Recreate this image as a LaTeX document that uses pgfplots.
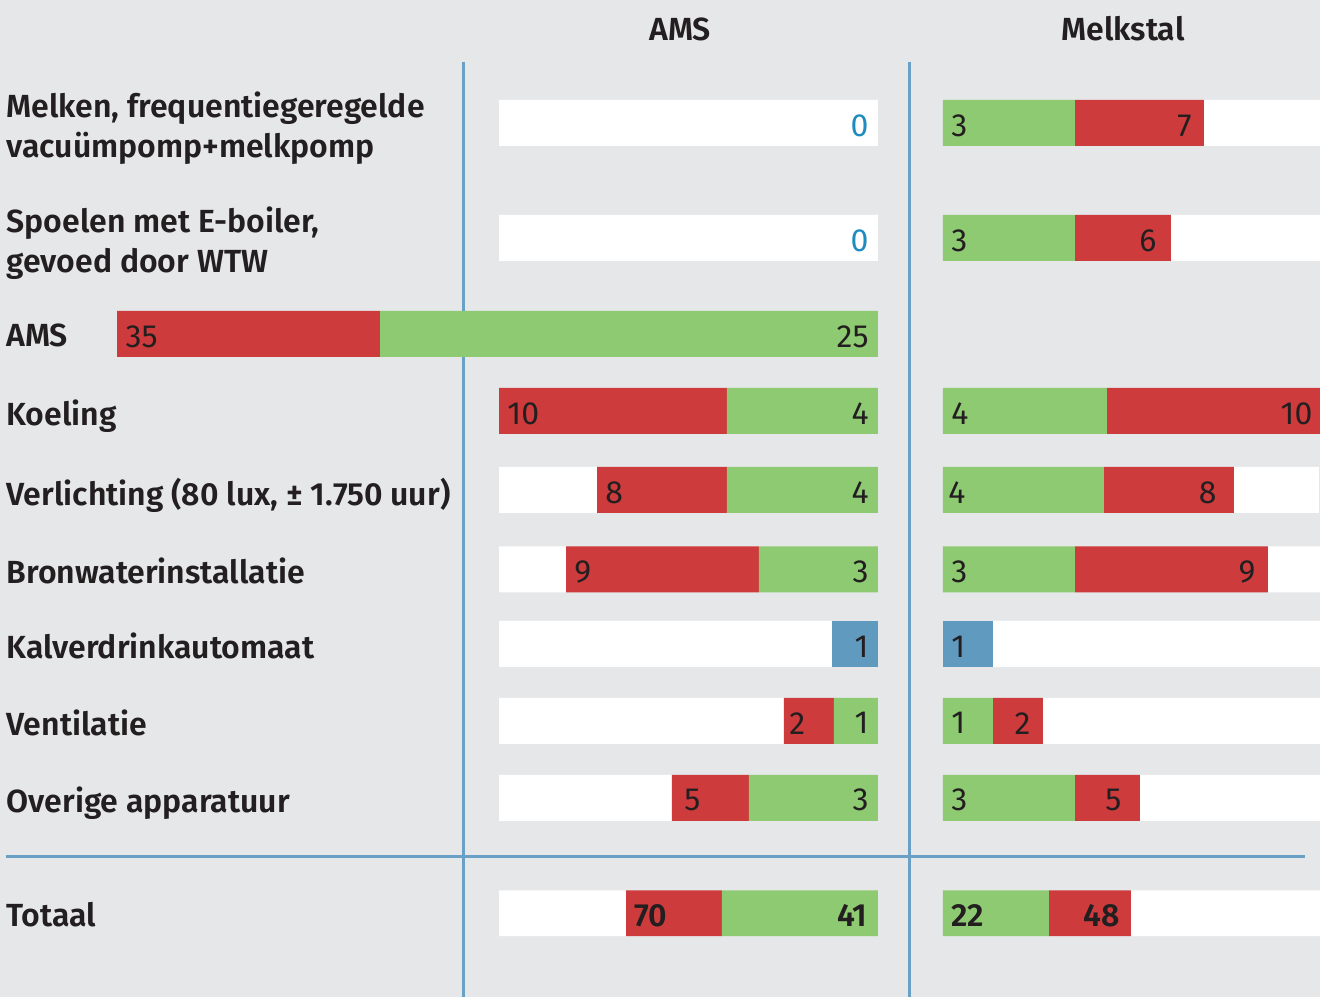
\documentclass[border=0pt]{standalone}
\usepackage{fontspec}
\setmainfont{Fira Sans}[BoldFont={Fira Sans SemiBold}]
\usepackage{pgfplots}
\usepackage{pgfplotstable}
\pgfplotsset{compat=1.18}
\definecolor{bg}{HTML}{E6E7E9}
\definecolor{cred}{HTML}{CD3B3C}
\definecolor{cgreen}{HTML}{8ECA72}
\definecolor{cblue}{HTML}{619ABF}
\definecolor{cline}{HTML}{6A9FC6}
\definecolor{czero}{HTML}{1E8CBE}
\definecolor{ctext}{HTML}{231F20}

% bar lengths (drawing units) per row, AMS panel grows leftwards
\pgfplotstableread{
y green blue red white
123 0 0 0 379
238 0 0 0 379
334 498 0 263 0
411 151 0 228 0
490 151 0 130 98
569.5 119 0 193 67
644 0 46 0 333
721 44 0 50 285
798 129 0 77 173
913.5 156 0 96 127
}\ams
% Melkstal panel grows rightwards
\pgfplotstableread{
y green blue red white
123 132 0 129 116
238 132 0 96 149
334 0 0 0 0
411 164 0 213 0
490 161 0 130 85
569.5 132 0 193 52
644 0 50 0 327
721 50 0 50 277
798 132 0 65 180
913.5 106 0 82 189
}\melk

\pgfplotsset{
 frame/.style={width=660pt, height=498.5pt, scale only axis, at={(0,0)}, anchor=south west,
   ymin=0, ymax=997, y dir=reverse, axis line style={draw=none},
   xtick=\empty, ytick=\empty, major tick length=0pt, clip=true},
 lab/.style={draw=none, mark=none, nodes near coords, point meta=explicit symbolic,
   nodes near coords style={inner sep=0pt, yshift=-1.25pt, font=\fontsize{16}{19}\selectfont, text=ctext, #1}},
}

\begin{document}
\begin{tikzpicture}
% frame, category labels, rules
\begin{axis}[frame, xmin=0, xmax=1320, axis background/.style={fill=bg},
  ytick={123,238,334,411,490,569.5,644,721,798,913.5},
  yticklabels={{Melken, frequentiegeregelde\\vacuümpomp+melkpomp},
    {Spoelen met E-boiler,\\gevoed door WTW}, AMS, Koeling,
    {Verlichting (80 lux, ± 1.750 uur)}, Bronwaterinstallatie,
    Kalverdrinkautomaat, Ventilatie, Overige apparatuur, Totaal},
  yticklabel style={anchor=west, align=left, inner sep=0pt, text depth=0pt, xshift=3pt, yshift=-0.75pt,
    font=\fontsize{16}{20}\selectfont\bfseries, text=ctext}]
  \draw[cline, line width=1.5pt] (axis cs:463,62) -- (axis cs:463,997);
  \draw[cline, line width=1.5pt] (axis cs:910,62) -- (axis cs:910,997);
  \draw[cline, line width=1.5pt] (axis cs:6,857) -- (axis cs:1305,857);
  \node[font=\fontsize{16}{19}\selectfont\bfseries, text=ctext] at (axis cs:680,29) {AMS};
  \node[font=\fontsize{16}{19}\selectfont\bfseries, text=ctext] at (axis cs:1123,29) {Melkstal};
\end{axis}
% AMS bars
\begin{axis}[frame, xmin=-442, xmax=878, x dir=reverse, xbar stacked, bar width=46]
  \addplot[fill=cgreen, draw=none] table[x=green, y=y] {\ams};
  \addplot[fill=cblue, draw=none] table[x=blue, y=y] {\ams};
  \addplot[fill=cred, draw=none] table[x=red, y=y] {\ams};
  \addplot[fill=white, draw=none] table[x=white, y=y] {\ams};
\end{axis}
% Melkstal bars
\begin{axis}[frame, xmin=-943, xmax=377, xbar stacked, bar width=46]
  \addplot[fill=cgreen, draw=none] table[x=green, y=y] {\melk};
  \addplot[fill=cblue, draw=none] table[x=blue, y=y] {\melk};
  \addplot[fill=cred, draw=none] table[x=red, y=y] {\melk};
  \addplot[fill=white, draw=none] table[x=white, y=y] {\melk};
\end{axis}
% value labels
\begin{axis}[frame, xmin=0, xmax=1320]
  \addplot[lab={anchor=east}] table[x=x, y=y, meta=t] {
x y t
869 334 25
869 411 4
869 490 4
869 569.5 3
869 644 1
869 721 1
869 798 3
};
  \addplot[lab={anchor=east, text=czero}] table[x=x, y=y, meta=t] {
x y t
869 123 0
869 238 0
};
  \addplot[lab={anchor=west}] table[x=x, y=y, meta=t] {
x y t
125 334 35
507 411 10
605 490 8
574 569.5 9
789 721 2
684 798 5
951 123 3
951 238 3
951 411 4
948 490 4
951 569.5 3
951 644 1
951 721 1
951 798 3
};
  \addplot[lab={anchor=east}] table[x=x, y=y, meta=t] {
x y t
1192 123 7
1157 238 6
1313 411 10
1217 490 8
1256 569.5 9
1031 721 2
1122 798 5
};
  \addplot[lab={anchor=west, font=\fontsize{16}{19}\selectfont\bfseries}] table[x=x, y=y, meta=t] {
x y t
634 913.5 70
951 913.5 22
};
  \addplot[lab={anchor=east, font=\fontsize{16}{19}\selectfont\bfseries}] table[x=x, y=y, meta=t] {
x y t
868 913.5 41
1120 913.5 48
};
\end{axis}
\end{tikzpicture}
\end{document}
